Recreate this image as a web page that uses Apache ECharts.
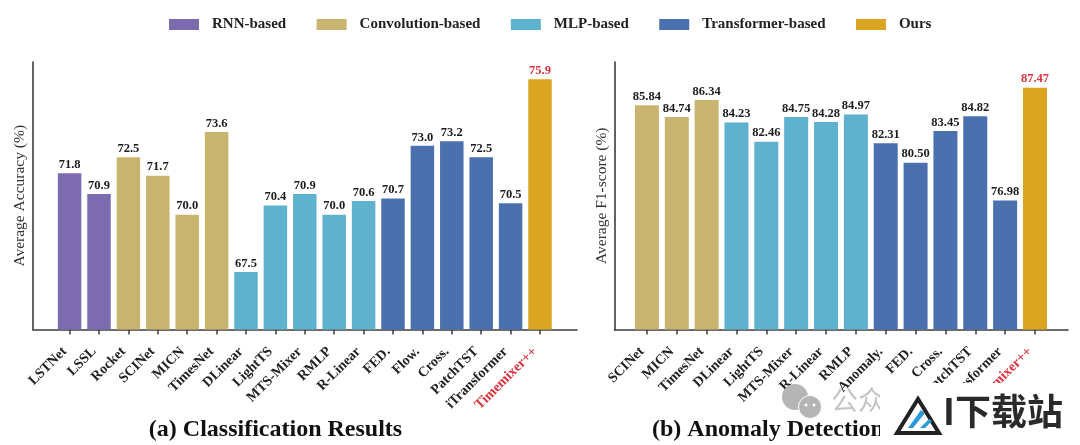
<!DOCTYPE html>
<html><head><meta charset="utf-8">
<style>html,body{margin:0;padding:0;background:#fff}#c{width:1080px;height:445px}</style>
<script src="https://cdn.jsdelivr.net/npm/echarts@6/dist/echarts.min.js"></script>
</head><body><div id="c"></div>
<script>
const groupNames = ['RNN-based','Convolution-based','MLP-based','Transformer-based','Ours'];
const groupColors = ['#7c6bae','#c8b46f','#5fb2cd','#4a70ae','#dba421'];
const catsA = ['LSTNet','LSSL','Rocket','SCINet','MICN','TimesNet','DLinear','LightTS','MTS-Mixer','RMLP','R-Linear','FED.','Flow.','Cross.','PatchTST','iTransformer','Timemixer++'];
const valsA = [71.8,70.9,72.5,71.7,70.0,73.6,67.5,70.4,70.9,70.0,70.6,70.7,73.0,73.2,72.5,70.5,75.9];
const groupA = [0,0,1,1,1,1,2,2,2,2,2,3,3,3,3,3,4];
const catsB = ['SCINet','MICN','TimesNet','DLinear','LightTS','MTS-Mixer','R-Linear','RMLP','Anomaly.','FED.','Cross.','PatchTST','iTransformer','Timemixer++'];
const valsB = [85.84,84.74,86.34,84.23,82.46,84.75,84.28,84.97,82.31,80.50,83.45,84.82,76.98,87.47];
const groupB = [1,1,1,2,2,2,2,2,3,3,3,3,3,4];
const serif = '"Liberation Serif","Times New Roman",serif';
const chart = echarts.init(document.getElementById('c'));
const axisCol = '#3c3c3c';
function seriesFor(vals, groups, axisIdx, dec){
  return groupNames.map((name,g)=>({
    name, type:'bar', xAxisIndex:axisIdx, yAxisIndex:axisIdx, barGap:'-100%', barWidth: axisIdx===0?23.5:24,
    itemStyle:{color:groupColors[g]},
    label:{show:true, position:'top', distance:2, fontFamily:serif, fontWeight:'bold', fontSize:12.5,
      color:g===4?'#d8323c':'#1c1c1c', formatter:p=>p.value.toFixed(dec)},
    data: vals.map((v,i)=>groups[i]===g?v:'-')
  }));
}
function catAxis(cats, gridIndex){
  return {type:'category', gridIndex, data:cats, boundaryGap:true,
    axisLine:{show:false}, axisTick:{show:true, alignWithLabel:true, length:5, lineStyle:{color:axisCol,width:1.5}},
    axisLabel:{interval:0, rotate:45, margin:15, padding:[0,7,0,0], fontFamily:serif, fontWeight:'bold', fontSize:14,
      color:(v)=>v==='Timemixer++'?'#d8323c':'#222'}};
}
function frameX(gridIndex){
  return {type:'category', gridIndex, data:[], axisLine:{show:true,lineStyle:{color:axisCol,width:1.6}}, axisTick:{show:false}, axisLabel:{show:false}};
}
function hiddenY(gridIndex,min,max){return {type:'value',gridIndex,min,max,show:false,splitLine:{show:false}};}
function frameY(gridIndex,min,max,name,gap){
  return {type:'value',gridIndex,min,max,name,nameLocation:'middle',nameGap:gap,
    nameTextStyle:{fontFamily:serif,fontSize:15.5,color:'#333'},
    axisLine:{show:true,lineStyle:{color:axisCol,width:1.6}},axisTick:{show:false},axisLabel:{show:false},splitLine:{show:false}};
}
const gridTop=62, gridH=267.5;
chart.setOption({
  animation:false,
  backgroundColor:'#fff',
  legend:{left:164,top:12,itemWidth:30,itemHeight:11,itemGap:30.4,data:groupNames,icon:'rect',
    textStyle:{fontFamily:serif,fontWeight:'bold',fontSize:15,color:'#222',padding:[0,0,0,8]},selectedMode:false},
  title:[
    {text:'(a) Classification Results',left:270.5,top:413,textAlign:'center',textStyle:{fontFamily:serif,fontWeight:'bold',fontSize:24,color:'#111'}},
    {text:'(b) Anomaly Detection',left:647,top:413,textStyle:{fontFamily:serif,fontWeight:'bold',fontSize:24,color:'#111'}}
  ],
  grid:[
    {left:54.9,top:gridTop,width:499.8,height:gridH},
    {left:632,top:gridTop,width:417.9,height:gridH},
    {left:33,top:gridTop,width:544,height:gridH},
    {left:614.5,top:gridTop,width:453.5,height:gridH}
  ],
  xAxis:[catAxis(catsA,0),catAxis(catsB,1),frameX(2),frameX(3)],
  yAxis:[hiddenY(0,65,76.65),hiddenY(1,65,89.86),frameY(2,65,76.65,'Average Accuracy (%)',5),frameY(3,65,89.86,'Average F1-score (%)',5)],
  series:[...seriesFor(valsA,groupA,0,1),...seriesFor(valsB,groupB,1,2)],
  graphic:[
    {type:'rect',z:100,shape:{x:880,y:383,width:200,height:62},style:{fill:'#fff'}},
    {type:'polygon',z:101,shape:{points:[[918,399],[897,433],[939,433]]},style:{fill:'none',stroke:'#222',lineWidth:4}},
    {type:'polygon',z:101,shape:{points:[[921,410],[908,428],[913,428],[925,413]]},style:{fill:'#2b9ad8'}},
    {type:'polygon',z:101,shape:{points:[[929,419],[920,428],[925,428],[932,421]]},style:{fill:'#2b9ad8'}},
    {type:'text',z:101,style:{x:943,y:393,text:'I下载站',fontFamily:'"Noto Sans CJK SC"',fontWeight:'bold',fontSize:36,fill:'#2a2a2a'}},
    {type:'circle',z:99,shape:{cx:795,cy:397,r:13},style:{fill:'#b5b5b5'}},
    {type:'circle',z:99,shape:{cx:810,cy:407,r:11.5},style:{fill:'#b5b5b5',stroke:'#fff',lineWidth:1}},
    {type:'circle',z:99,shape:{cx:806,cy:405,r:1.5},style:{fill:'#fff'}},
    {type:'circle',z:99,shape:{cx:814,cy:405,r:1.5},style:{fill:'#fff'}},
    {type:'text',z:99,style:{x:831,y:386,text:'公众',fontFamily:'"Noto Sans CJK SC"',fontSize:27,fill:'#c4c4c4'}}
  ]
});
</script></body></html>
